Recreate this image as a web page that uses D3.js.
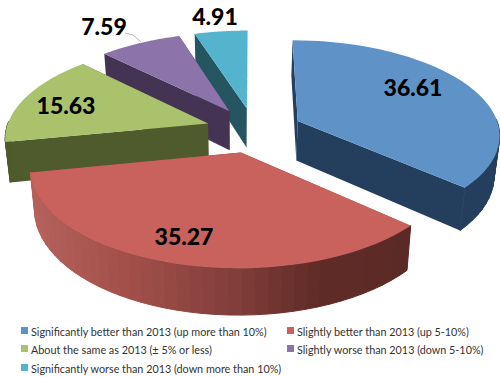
<!DOCTYPE html>
<html>
<head>
<meta charset="utf-8">
<script src="https://cdnjs.cloudflare.com/ajax/libs/d3/7.8.5/d3.min.js"></script>
<style>
    html, body { margin: 0; padding: 0; background: #fff; }
    svg { display: block; }
    text { font-family: Lato, "Open Sans", sans-serif; }
</style>
</head>
<body>
<div id="chart"></div>
<script>
// Chart values
const categories = [
    "Significantly better than 2013 (up more than 10%)",
    "Slightly better than 2013 (up 5-10%)",
    "About the same as 2013 (± 5% or less)",
    "Slightly worse than 2013 (down 5-10%)",
    "Significantly worse than 2013 (down more than 10%)"
];
const values = [36.61, 35.27, 15.63, 7.59, 4.91];

// Styles and layout, one entry per slice
const topColors = ["#5f93c8", "#c9625d", "#a9c26b", "#8c74ab", "#55b4cd"];
const sideColors = ["#243f5e", "#8a4340", "#4f5b2c", "#453353", "#245560"];
const labelPos = [[413, 87], [184, 236], [66, 105], [104, 26], [215, 16]];
const legendPos = [[21, 331], [287, 331], [21, 349], [287, 349], [21, 368]];

const width = 500, height = 377;
const cx = 254, cy = 130;      // centre of the unexploded pie on screen
const rx = 202, ry = 93.7;     // radii before perspective
const persp = 0.134;           // how much bigger the near edge gets
const explode = 0.24;
const startDeg = 0;
const vanishX = 235, shrink = 0.0213; // bottom face pulls in a bit towards here

const svg = d3.select("#chart").append("svg")
    .attr("width", width)
    .attr("height", height);

// red rim goes from light on the left to dark on the right
const rimShade = d3.scaleLinear()
    .domain([36, 130, 240, 320, 408])
    .range(["#b5605a", "#a24f49", "#7f3d39", "#5f2b27", "#5c2a26"]);

// Flat pie coordinates -> screen
function project(X, Y) {
    const s = 1 / (1 - persp * Y);
    return [cx + rx * X * s, cy + ry * Y * s];
}

// Same point on the underside of the slice
function lower(p) {
    const t = 36 + 0.05 * (p[1] - 50);
    return [vanishX + (p[0] - vanishX) * (1 - shrink), p[1] + t];
}

const line = d3.line().curve(d3.curveLinearClosed);

const pie = d3.pie().sort(null).startAngle(startDeg * Math.PI / 180)
    .endAngle((startDeg + 360) * Math.PI / 180);
const arcs = pie(values);

function drawSlice(d) {
    const i = d.index;
    const mid = (d.startAngle + d.endAngle) / 2;
    const ox = explode * Math.sin(mid), oy = -explode * Math.cos(mid);
    const apex = project(ox, oy);

    const steps = d3.range(0, 41).map(k => d.startAngle + (d.endAngle - d.startAngle) * k / 40);
    const rim = steps.map(a => project(ox + Math.sin(a), oy - Math.cos(a)));

    const g = svg.append("g").attr("class", "slice");

    // The two cut faces go first, they have no stroke so nothing pokes out at the back
    const cuts = [
        [apex, rim[0], lower(rim[0]), lower(apex)],
        [apex, rim[40], lower(rim[40]), lower(apex)]
    ];
    g.selectAll("path.cut").data(cuts).enter().append("path")
        .attr("class", "cut")
        .attr("d", line)
        .attr("fill", sideColors[i]);

    // Outer wall, only the part facing the viewer. Strips overlap a little to hide seams
    const wall = [];
    d3.pairs(rim).forEach(([a, b], k) => {
        if (Math.cos(steps[k]) > 0.02) return;
        wall.push({
            pts: [a, b, lower(b), lower(a)],
            fill: i === 1 ? rimShade((a[0] + b[0]) / 2) : sideColors[i]
        });
    });
    g.selectAll("path.wall").data(wall).enter().append("path")
        .attr("class", "wall")
        .attr("d", f => line(f.pts))
        .attr("fill", f => f.fill)
        .attr("stroke", f => f.fill)
        .attr("stroke-width", 1);

    g.append("path")
        .attr("d", line([apex].concat(rim)))
        .attr("fill", topColors[i]);
}

// back to front
[4, 3, 2, 0, 1].forEach(i => drawSlice(arcs[i]));

// Leader line of the 7.59 label
svg.append("path")
    .attr("d", d3.line()([[125, 33], [133, 35], [141, 42]]))
    .attr("fill", "none")
    .attr("stroke", "#a6a6a6")
    .attr("stroke-width", 0.8);

// Value labels
svg.selectAll("text.value").data(values).enter().append("text")
    .attr("class", "value")
    .attr("x", (d, i) => labelPos[i][0])
    .attr("y", (d, i) => labelPos[i][1])
    .attr("text-anchor", "middle")
    .attr("dominant-baseline", "central")
    .attr("font-size", 23)
    .attr("font-weight", 900)
    .attr("fill", "#000")
    .text(d => d.toFixed(2));

// Legend
const legend = svg.selectAll("g.legend").data(categories).enter().append("g")
    .attr("class", "legend")
    .attr("transform", (d, i) => "translate(" + legendPos[i][0] + "," + legendPos[i][1] + ")");

legend.append("rect")
    .attr("x", 0)
    .attr("y", -4)
    .attr("width", 7)
    .attr("height", 7)
    .attr("fill", (d, i) => topColors[i]);

legend.append("text")
    .attr("x", 10)
    .attr("y", 0)
    .attr("dominant-baseline", "central")
    .attr("font-size", 10.8)
    .attr("fill", "#333")
    .text(d => d);
</script>
</body>
</html>
